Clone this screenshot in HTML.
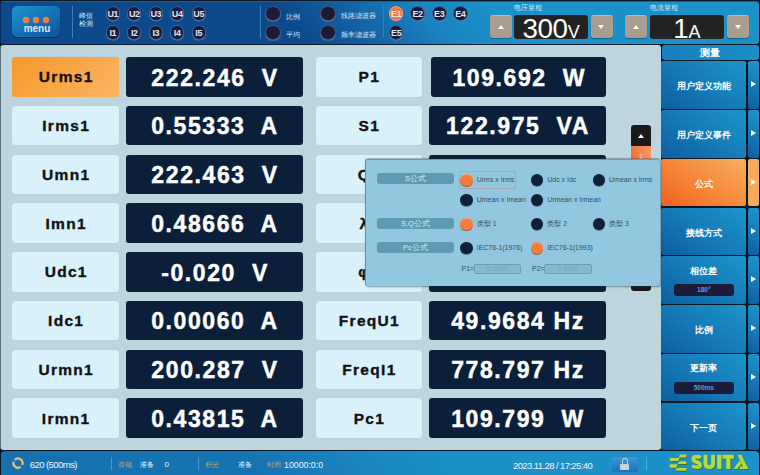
<!DOCTYPE html>
<html><head><meta charset="utf-8">
<style>
*{margin:0;padding:0;box-sizing:border-box}
html,body{width:760px;height:475px;overflow:hidden;background:#0a1620;font-family:"Liberation Sans",sans-serif}
.a{position:absolute}
#hdr{left:0;top:1px;width:759px;height:42.6px;border-radius:3px 3px 3px 3px;border-left:1px solid #0b2c58;border-top:1px solid #2a5a88;
 background:linear-gradient(50deg,#0d4a8c 0px,#0d4a8c 238px,#1466a8 295px,#1a84c2 345px,#1b90c9 395px,#1b90c9 100%)}
#main{left:0;top:45px;width:661px;height:404.5px;background:#bcd5df;border-radius:3px;border-left:1px solid #5a7580}
#bot{left:1px;top:451px;width:757.7px;height:24px;border-radius:4px 4px 0 0;
 background:linear-gradient(60deg,#1570b0 0px,#1673b2 220px,#1a86c2 320px,#1b90c9 400px,#1b90c9 100%)}
.lab{width:106.5px;height:39.6px;border-radius:3px;background:#d8f1fb;color:#111;font-weight:bold;font-size:15.5px;letter-spacing:1.3px;-webkit-text-stroke:.35px #111;padding:1px 0 0 1.3px;
 display:flex;align-items:center;justify-content:center;box-shadow:0 0 1px rgba(0,0,0,.15)}
.val{height:39.5px;border-radius:3px;background:#0b1f3b;color:#fff;font-weight:bold;font-size:23px;letter-spacing:1.6px;-webkit-text-stroke:.45px #fff;padding:2.5px 0 0 1.5px;
 display:flex;align-items:center;justify-content:center;white-space:pre}
.rb{left:661px;width:85.2px;height:47.6px;border-radius:2px;color:#fff;font-size:9px;font-weight:bold;padding-top:3.5px;
 background:linear-gradient(35deg,#0d5e9e 0%,#157bb8 50%,#1d95cb 100%);display:flex;align-items:center;justify-content:center}
.ra{left:747.9px;width:10.8px;height:47.6px;border-radius:2px;
 background:linear-gradient(35deg,#0d5e9e 0%,#157bb8 50%,#1d95cb 100%)}
.ra:after{content:"";position:absolute;left:3.2px;top:20px;border-left:5px solid #fff;border-top:3.5px solid transparent;border-bottom:3.5px solid transparent}
.sub{left:674px;width:59.7px;height:11.8px;border-radius:3px;background:#1c1c3a;color:#4f9fe0;font-weight:bold;font-size:6.5px;line-height:11.8px;text-align:center}
.dot{width:6px;height:6px;border-radius:50%;background:#f47b3e;box-shadow:0 0 1px #f9a070}
.sep{width:1px;background:#3e7fb8}
.cj{color:#dbe8f5;font-size:7px;line-height:8px;white-space:nowrap}
.ci{width:14.4px;height:14.4px;border-radius:50%;background:#161b3d;border:1px solid #3d5f92;box-shadow:0 .6px .6px #6f86b0;color:#e2e6ee;font-size:9px;font-weight:bold;text-align:center;line-height:14px;letter-spacing:-.4px}
.cb{width:15.4px;height:15.4px;border-radius:50%;background:#1d1a36;border:1px solid #44557e;box-shadow:0 .6px .6px #6a7fa8}
.ce{width:14.6px;height:14.6px;border-radius:50%;background:#161b3d;border:1px solid #3d5f92;box-shadow:0 .6px .6px #6f86b0;color:#e2e6ee;font-size:9px;font-weight:bold;text-align:center;line-height:14px;letter-spacing:-.3px}
.btn{top:14.9px;width:22.3px;height:23.6px;border-radius:3px;background:#a99d8f;border-top:1px solid #c4bbae;box-shadow:0 1px 1px rgba(0,0,0,.3)}
.btn i{position:absolute;left:50%;top:50%;width:0;height:0;border-left:3.2px solid transparent;border-right:3.2px solid transparent}
.btn i.up{margin:-2.5px 0 0 -3.2px;border-bottom:4.5px solid #fff}
.btn i.dn{margin:-2px 0 0 -3.2px;border-top:4.5px solid #fff}
.disp{top:15.2px;height:24.2px;border-radius:3px;background:#222;color:#fff;font-size:27.8px;line-height:24px;padding-top:1.6px;text-align:center;letter-spacing:-.4px;white-space:nowrap}
.disp span{font-size:18px;letter-spacing:0}
.pill{left:377px;width:77px;height:11.3px;border-radius:3px;background:#5f99b2;color:#dce9f0;font-size:7.5px;line-height:11.3px;text-align:center}
.rad{width:12.2px;height:12.2px;border-radius:50%;background:#0e2136;box-shadow:0 1px 0 #5f7f92}
.rad.on{background:#f47b3c;box-shadow:0 1px 0 #9c5a3a, inset 0 1px 0 #f9a070}
.rt{color:#33505f;font-size:6.95px;line-height:10px;white-space:nowrap}
.inp{top:263.5px;width:47.3px;height:10.2px;border-radius:2px;background:#86bad0;border:1px solid #6f9cb2;color:#7ea4b8;font-size:7px;line-height:8.5px;text-align:center}
.bt{top:459px;color:#f0f6fb;font-size:9.5px;line-height:12px;white-space:nowrap}
.bj{top:460px;color:#f0f6fb;font-size:7px;line-height:10px;white-space:nowrap}
</style></head><body>
<div id="hdr" class="a"></div>
<div class="a" style="left:11.8px;top:5.8px;width:48.4px;height:31.6px;border-radius:5px;background:linear-gradient(150deg,#1f93d2 0%,#1577bb 45%,#0c529c 100%);box-shadow:0 1px 1px rgba(0,20,60,.6)"></div>
<div class="a dot" style="left:22.8px;top:16.5px"></div>
<div class="a dot" style="left:32.8px;top:16.5px"></div>
<div class="a dot" style="left:42.8px;top:16.5px"></div>
<div class="a" style="left:12.8px;top:22.7px;width:48.4px;text-align:center;color:#dfe9f7;font-weight:bold;font-size:10px;line-height:12px;letter-spacing:0px">menu</div>
<div class="a sep" style="left:72px;top:6px;height:32px"></div>
<div class="a cj" style="left:79px;top:11.5px">峰值</div><div class="a cj" style="left:79px;top:19.5px">检测</div>
<div class="a ci" style="left:105.7px;top:6.4px">U1</div>
<div class="a ci" style="left:105.7px;top:25.3px">I1</div>
<div class="a ci" style="left:127.1px;top:6.4px">U2</div>
<div class="a ci" style="left:127.1px;top:25.3px">I2</div>
<div class="a ci" style="left:148.6px;top:6.4px">U3</div>
<div class="a ci" style="left:148.6px;top:25.3px">I3</div>
<div class="a ci" style="left:170.0px;top:6.4px">U4</div>
<div class="a ci" style="left:170.0px;top:25.3px">I4</div>
<div class="a ci" style="left:191.5px;top:6.4px">U5</div>
<div class="a ci" style="left:191.5px;top:25.3px">I5</div>
<div class="a sep" style="left:259.5px;top:6px;height:32px"></div>
<div class="a cb" style="left:265.4px;top:5.9px"></div>
<div class="a cb" style="left:265.4px;top:24.9px"></div>
<div class="a cb" style="left:320.2px;top:5.9px"></div>
<div class="a cb" style="left:320.2px;top:24.9px"></div>
<div class="a cj" style="left:286px;top:12.5px">比例</div><div class="a cj" style="left:286px;top:30.5px">平均</div>
<div class="a cj" style="left:341px;top:12px">线路滤波器</div><div class="a cj" style="left:341px;top:30.5px">频率滤波器</div>
<div class="a sep" style="left:383.4px;top:6px;height:32px"></div>
<div class="a ce" style="left:388.9px;top:6.1px;background:#ef7a43;border-color:#f59a6a">E1</div>
<div class="a ce" style="left:410.3px;top:6.1px">E2</div>
<div class="a ce" style="left:432.0px;top:6.1px">E3</div>
<div class="a ce" style="left:453.1px;top:6.1px">E4</div>
<div class="a ce" style="left:388.9px;top:25.3px">E5</div>
<div class="a sep" style="left:480.5px;top:6px;height:32px"></div>
<div class="a cj" style="left:514.0px;top:4px">电压量程</div>
<div class="a btn" style="left:490.0px"><i class="up"></i></div>
<div class="a disp" style="left:514.4px;width:73.3px">300<span>V</span></div>
<div class="a btn" style="left:590.5px"><i class="dn"></i></div>
<div class="a cj" style="left:649.5px;top:4px">电流量程</div>
<div class="a btn" style="left:625.2px"><i class="up"></i></div>
<div class="a disp" style="left:650.0px;width:73.8px">1<span>A</span></div>
<div class="a btn" style="left:726.6px"><i class="dn"></i></div>
<div id="main" class="a"></div>
<div class="a lab" style="left:12.3px;top:57.00px;background:linear-gradient(135deg,#f7982c,#fbb462)">Urms1</div>
<div class="a val" style="left:125.5px;width:177.5px;top:57.00px">222.246  V</div>
<div class="a lab" style="left:315.5px;top:57.00px">P1</div>
<div class="a val" style="left:431px;width:175px;top:57.00px">109.692  W</div>
<div class="a lab" style="left:12.3px;top:105.75px">Irms1</div>
<div class="a val" style="left:125.5px;width:177.5px;top:105.75px">0.55333  A</div>
<div class="a lab" style="left:315.5px;top:105.75px">S1</div>
<div class="a val" style="left:428.5px;width:177.5px;top:105.75px">122.975  VA</div>
<div class="a lab" style="left:12.3px;top:154.50px">Umn1</div>
<div class="a val" style="left:125.5px;width:177.5px;top:154.50px">222.463  V</div>
<div class="a lab" style="left:315.5px;top:154.50px">Q1</div>
<div class="a val" style="left:428.5px;width:177.5px;top:154.50px">0.000  var</div>
<div class="a lab" style="left:12.3px;top:203.25px">Imn1</div>
<div class="a val" style="left:125.5px;width:177.5px;top:203.25px">0.48666  A</div>
<div class="a lab" style="left:315.5px;top:203.25px">λ1</div>
<div class="a val" style="left:428.5px;width:177.5px;top:203.25px">0.89197</div>
<div class="a lab" style="left:12.3px;top:252.00px">Udc1</div>
<div class="a val" style="left:125.5px;width:177.5px;top:252.00px">-0.020  V</div>
<div class="a lab" style="left:315.5px;top:252.00px">φ1</div>
<div class="a val" style="left:428.5px;width:177.5px;top:252.00px">26.88°</div>
<div class="a lab" style="left:12.3px;top:300.75px">Idc1</div>
<div class="a val" style="left:125.5px;width:177.5px;top:300.75px">0.00060  A</div>
<div class="a lab" style="left:315.5px;top:300.75px">FreqU1</div>
<div class="a val" style="left:428.5px;width:177.5px;top:300.75px">49.9684 Hz</div>
<div class="a lab" style="left:12.3px;top:349.50px">Urmn1</div>
<div class="a val" style="left:125.5px;width:177.5px;top:349.50px">200.287  V</div>
<div class="a lab" style="left:315.5px;top:349.50px">FreqI1</div>
<div class="a val" style="left:428.5px;width:177.5px;top:349.50px">778.797 Hz</div>
<div class="a lab" style="left:12.3px;top:398.25px">Irmn1</div>
<div class="a val" style="left:125.5px;width:177.5px;top:398.25px">0.43815  A</div>
<div class="a lab" style="left:315.5px;top:398.25px">Pc1</div>
<div class="a val" style="left:428.5px;width:177.5px;top:398.25px">109.799  W</div>
<div class="a" style="left:662px;top:45.2px;width:96.7px;height:15px;border-radius:3px;background:linear-gradient(90deg,#1680bf,#1c8fc8);color:#fff;font-size:9.5px;font-weight:bold;text-align:center;line-height:15px">测量</div>
<div class="a rb" style="top:61.40px">用户定义功能</div>
<div class="a ra" style="top:61.40px"></div>
<div class="a rb" style="top:110.15px">用户定义事件</div>
<div class="a ra" style="top:110.15px"></div>
<div class="a rb" style="top:158.90px;background:linear-gradient(35deg,#f26020 0%,#f58a3a 50%,#f9ae62 100%)">公式</div>
<div class="a ra" style="top:158.90px;background:#f7aa5c"></div>
<div class="a rb" style="top:207.65px">接线方式</div>
<div class="a ra" style="top:207.65px"></div>
<div class="a rb" style="top:256.40px;align-items:flex-start;padding-top:8.5px">相位差</div>
<div class="a sub" style="top:284.40px">180°</div>
<div class="a ra" style="top:256.40px"></div>
<div class="a rb" style="top:305.15px">比例</div>
<div class="a ra" style="top:305.15px"></div>
<div class="a rb" style="top:353.90px;align-items:flex-start;padding-top:8.5px">更新率</div>
<div class="a sub" style="top:381.90px">500ms</div>
<div class="a ra" style="top:353.90px"></div>
<div class="a rb" style="top:402.65px">下一页</div>
<div class="a ra" style="top:402.65px"></div>
<div id="bot" class="a"></div>
<svg class="a" style="left:0;top:451px" width="40" height="24" viewBox="0 451 40 24"><path d="M14.75,459.95 A4.60,4.60 0 0 1 22.17,465.14 M20.64,466.97 A4.60,4.60 0 0 1 13.68,461.63" fill="none" stroke="#eebb78" stroke-width="2.2"/></svg>
<div class="a bt" style="left:29.7px;letter-spacing:-.55px">620 (500ms)</div>
<div class="a" style="left:110.5px;top:456.6px;width:1px;height:13px;background:#4a9ad0"></div>
<div class="a bj" style="left:118px;color:#c9a066">存储</div>
<div class="a bj" style="left:140px">准备</div>
<div class="a bt" style="left:164.5px;font-size:8px">0</div>
<div class="a" style="left:197.9px;top:456.6px;width:1px;height:13px;background:#4a9ad0"></div>
<div class="a bj" style="left:204.7px;color:#c9a066">积分</div>
<div class="a bj" style="left:238px">准备</div>
<div class="a bj" style="left:267px;color:#c9a066">时间</div>
<div class="a bt" style="left:284px;font-size:8.7px;letter-spacing:.05px">10000:0:0</div>
<div class="a bt" style="left:513px;top:459.5px;letter-spacing:-.6px">2023.11.28 / 17:25:40</div>
<div class="a" style="left:610.5px;top:456.2px;width:28.5px;height:16.8px;border-radius:3px;background:linear-gradient(180deg,#3a9ad8,#1a72b8);border:1px solid #2c86c4"></div>
<div class="a" style="left:620px;top:463.5px;width:9px;height:6.5px;border-radius:1px;background:#c8d2dc"></div>
<div class="a" style="left:621.5px;top:458.3px;width:6px;height:7px;border-radius:3px 3px 0 0;border:1.5px solid #c8d2dc;border-bottom:none"></div>
<div class="a" style="left:646px;top:457px;width:1px;height:13px;background:#5aa8da"></div>
<svg class="a" style="left:660px;top:451px" width="100" height="24" viewBox="660 451 100 24"><g fill="#3f6d36" stroke="#3f6d36" stroke-width="0" transform="translate(0.7,0.9)"><polygon points="680,454.4 686.3,454.4 686.3,457.5 678.8,457.5"/><polygon points="669.8,458 679.5,458 678.6,460.9 669.8,460.9"/>
<polygon points="678.8,461.2 686.3,461.2 686.3,464 677.8,464"/><polygon points="669.8,464.3 677.6,464.3 676.6,467.7 669.8,467.7"/>
<polygon points="676.6,467.9 686.3,467.9 686.3,470.8 675.6,470.8"/>
<rect x="717.1" y="454.8" width="4.4" height="14.3"/><rect x="722.5" y="454.8" width="11.4" height="3.9"/><rect x="726.1" y="454.8" width="4.3" height="14.3"/>
<polygon points="737.4,454.8 741.4,454.8 748.3,469.1 744.3,469.1"/><polygon points="739.9,466.5 747.1,466.5 748.3,469.1 739.9,469.1"/><polygon points="739.4,460.6 741.7,463.6 737.2,469.1 733.6,469.1"/>
<path d="M705.5,454.8 V463.6 Q705.5,467.2 709.3,467.2 Q713.1,467.2 713.1,463.6 V454.8" fill="none" stroke="#3f6d36" stroke-width="3.9"/>
<path d="M701,457.5 C699.5,456.6 697.5,456.6 696.3,456.6 C693.6,456.6 693.3,458.4 693.3,459 C693.3,463 700.1,461 700.1,465.2 C700.1,466.7 698.6,467.2 696.9,467.2 C695.4,467.2 693.6,466.9 692,466" fill="none" stroke="#3f6d36" stroke-width="3.7"/></g><g fill="#b6d93b"><polygon points="680,454.4 686.3,454.4 686.3,457.5 678.8,457.5"/><polygon points="669.8,458 679.5,458 678.6,460.9 669.8,460.9"/>
<polygon points="678.8,461.2 686.3,461.2 686.3,464 677.8,464"/><polygon points="669.8,464.3 677.6,464.3 676.6,467.7 669.8,467.7"/>
<polygon points="676.6,467.9 686.3,467.9 686.3,470.8 675.6,470.8"/>
<rect x="717.1" y="454.8" width="4.4" height="14.3"/><rect x="722.5" y="454.8" width="11.4" height="3.9"/><rect x="726.1" y="454.8" width="4.3" height="14.3"/>
<polygon points="737.4,454.8 741.4,454.8 748.3,469.1 744.3,469.1"/><polygon points="739.9,466.5 747.1,466.5 748.3,469.1 739.9,469.1"/><polygon points="739.4,460.6 741.7,463.6 737.2,469.1 733.6,469.1"/>
<path d="M705.5,454.8 V463.6 Q705.5,467.2 709.3,467.2 Q713.1,467.2 713.1,463.6 V454.8" fill="none" stroke="#b6d93b" stroke-width="3.9"/>
<path d="M701,457.5 C699.5,456.6 697.5,456.6 696.3,456.6 C693.6,456.6 693.3,458.4 693.3,459 C693.3,463 700.1,461 700.1,465.2 C700.1,466.7 698.6,467.2 696.9,467.2 C695.4,467.2 693.6,466.9 692,466" fill="none" stroke="#b6d93b" stroke-width="3.7"/></g></svg>
<div class="a" style="left:631px;top:125.4px;width:20.2px;height:165.8px;border-radius:3px;background:#1a1a1a"></div>
<div class="a" style="left:631px;top:145.8px;width:20.2px;height:14px;background:linear-gradient(90deg,#f47232,#f8986a)"></div>
<div class="a" style="left:631px;top:152px;width:20.2px;text-align:center;color:#fde0d0;font-size:8px;line-height:10px">1</div>
<div class="a" style="left:637.9px;top:133.6px;border-left:3.2px solid transparent;border-right:3.2px solid transparent;border-bottom:4.6px solid #fff"></div>
<div class="a" style="left:364.5px;top:158.6px;width:295.7px;height:127.7px;border-radius:3px;background:#92c7df;border-left:1px solid #5f8fa8;border-top:1px solid #6a9cb8;box-shadow:1px 1px 2px rgba(20,50,70,.45),0 -.5px 1px rgba(20,50,70,.3)"></div>
<div class="a pill" style="top:173px">S公式</div>
<div class="a pill" style="top:218px">S,Q公式</div>
<div class="a pill" style="top:241.6px">Pc公式</div>
<div class="a" style="left:459.1px;top:170.7px;width:57.2px;height:18.1px;border:1px solid #a9a9ae"></div>
<div class="a rad on" style="left:460.4px;top:173.6px"></div><div class="a rt" style="left:476.8px;top:174.7px">Urms x Irms</div>
<div class="a rad" style="left:530.9px;top:173.6px"></div><div class="a rt" style="left:547.3px;top:174.7px">Udc x Idc</div>
<div class="a rad" style="left:592.7px;top:173.6px"></div><div class="a rt" style="left:609.1px;top:174.7px">Umean x Irms</div>
<div class="a rad" style="left:460.4px;top:194.1px"></div><div class="a rt" style="left:476.8px;top:195.2px">Umean x Imean</div>
<div class="a rad" style="left:530.9px;top:194.1px"></div><div class="a rt" style="left:547.3px;top:195.2px">Urmean x Irmean</div>
<div class="a rad on" style="left:460.4px;top:218.2px"></div><div class="a rt" style="left:476.8px;top:219.3px">类型 1</div>
<div class="a rad" style="left:530.9px;top:218.2px"></div><div class="a rt" style="left:547.3px;top:219.3px">类型 2</div>
<div class="a rad" style="left:592.7px;top:218.2px"></div><div class="a rt" style="left:609.1px;top:219.3px">类型 3</div>
<div class="a rad" style="left:460.4px;top:241.5px"></div><div class="a rt" style="left:476.8px;top:242.6px">IEC76-1(1976)</div>
<div class="a rad on" style="left:530.9px;top:241.5px"></div><div class="a rt" style="left:547.3px;top:242.6px">IEC76-1(1993)</div>
<div class="a rt" style="left:461.5px;top:263.7px">P1=</div><div class="a inp" style="left:474px">0.5000</div>
<div class="a rt" style="left:532px;top:263.7px">P2=</div><div class="a inp" style="left:544.4px">0.5000</div>
</body></html>
